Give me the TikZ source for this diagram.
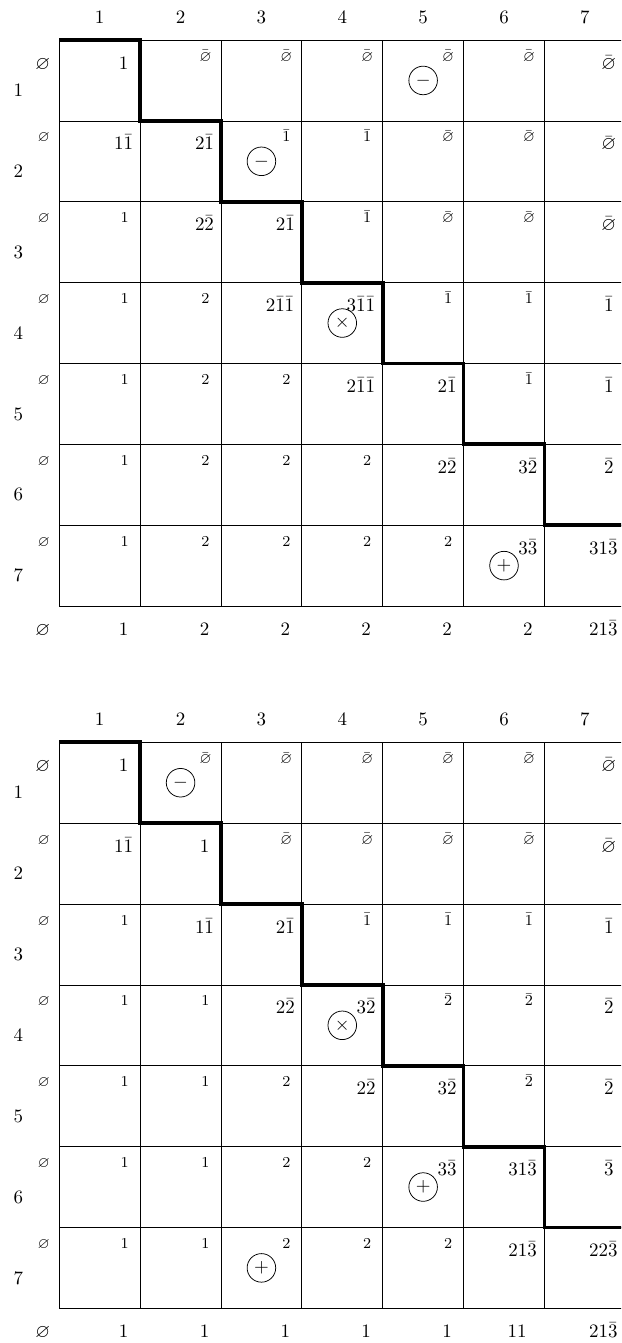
\documentclass[tikz,border=0pt]{standalone}
\usepackage{amsmath}
\usepackage{amssymb}
\usepackage{tikz}

\begin{document}
\begin{tikzpicture}[
    x=1.5cm, y=-1.5cm,
    gridline/.style = {line width=0.4pt},
    stair/.style    = {line width=2pt},
    bignum/.style   = {anchor=base, inner sep=0pt, xshift=-0.306cm, yshift=-0.539cm},
    leftnum/.style  = {bignum, xshift=-0.2cm},
    smallnum/.style = {anchor=base, inner sep=0pt, font=\footnotesize, xshift=-0.287cm, yshift=-0.39cm},
    widenum/.style  = {anchor=base east, inner sep=0pt, xshift=-0.135cm, yshift=-0.539cm},
    idx/.style      = {anchor=base, inner sep=0pt},
    oper/.style     = {draw, circle, line width=0.4pt, minimum size=0.53cm, inner sep=0pt}
]
    \path[use as bounding box, clip] (0,0) rectangle (7.680,16.609);

    % first table
    \begin{scope}[shift={(0.733,0.495)}]
        \foreach \i in {0,...,7} {
            \draw[gridline] (\i,0) -- (\i,7);
            \draw[gridline] (0,\i) -- (7,\i);
        }
        \draw[stair] (0,0) \foreach \i in {1,...,6} { -| (\i,\i) } -- (7,6);

        \foreach \i in {1,...,7} {
            \node[idx] (a-col-\i) at (\i-0.5,-0.21) {$\i$};
            \node[idx] (a-row-\i) at (-0.507,\i-0.30) {$\i$};
        }

        \foreach \rw/\row in {
            1/{bignum/\varnothing, bignum/1, smallnum/\bar\varnothing, smallnum/\bar\varnothing, smallnum/\bar\varnothing, smallnum/\bar\varnothing, smallnum/\bar\varnothing, bignum/\bar\varnothing},
            2/{smallnum/\varnothing, bignum/1\bar1, bignum/2\bar1, smallnum/\bar1, smallnum/\bar1, smallnum/\bar\varnothing, smallnum/\bar\varnothing, bignum/\bar\varnothing},
            3/{smallnum/\varnothing, smallnum/1, bignum/2\bar2, bignum/2\bar1, smallnum/\bar1, smallnum/\bar\varnothing, smallnum/\bar\varnothing, bignum/\bar\varnothing},
            4/{smallnum/\varnothing, smallnum/1, smallnum/2, widenum/2\bar1\bar1, widenum/3\bar1\bar1, smallnum/\bar1, smallnum/\bar1, bignum/\bar1},
            5/{smallnum/\varnothing, smallnum/1, smallnum/2, smallnum/2, widenum/2\bar1\bar1, bignum/2\bar1, smallnum/\bar1, bignum/\bar1},
            6/{smallnum/\varnothing, smallnum/1, smallnum/2, smallnum/2, smallnum/2, bignum/2\bar2, bignum/3\bar2, bignum/\bar2},
            7/{smallnum/\varnothing, smallnum/1, smallnum/2, smallnum/2, smallnum/2, smallnum/2, bignum/3\bar3, widenum/31\bar3},
            8/{bignum/\varnothing, bignum/1, bignum/2, bignum/2, bignum/2, bignum/2, bignum/2, widenum/21\bar3}}
            \foreach \sty/\ent [count=\cl from 0] in \row
                \node[\sty] (a-\rw-\cl) at (\cl,\rw-1) {$\ent$};

        \node[oper] (a-minus1) at (4.5,0.5) {$-$};
        \node[oper] (a-minus2) at (2.5,1.5) {$-$};
        \node[oper] (a-times) at (3.5,3.5) {$\times$};
        \node[oper] (a-plus) at (5.5,6.5) {$+$};
    \end{scope}

    % second table
    \begin{scope}[shift={(0.733,9.180)}]
        \foreach \i in {0,...,7} {
            \draw[gridline] (\i,0) -- (\i,7);
            \draw[gridline] (0,\i) -- (7,\i);
        }
        \draw[stair] (0,0) \foreach \i in {1,...,6} { -| (\i,\i) } -- (7,6);

        \foreach \i in {1,...,7} {
            \node[idx] (b-col-\i) at (\i-0.5,-0.21) {$\i$};
            \node[idx] (b-row-\i) at (-0.507,\i-0.30) {$\i$};
        }

        \foreach \rw/\row in {
            1/{bignum/\varnothing, bignum/1, smallnum/\bar\varnothing, smallnum/\bar\varnothing, smallnum/\bar\varnothing, smallnum/\bar\varnothing, smallnum/\bar\varnothing, bignum/\bar\varnothing},
            2/{smallnum/\varnothing, bignum/1\bar1, bignum/1, smallnum/\bar\varnothing, smallnum/\bar\varnothing, smallnum/\bar\varnothing, smallnum/\bar\varnothing, bignum/\bar\varnothing},
            3/{smallnum/\varnothing, smallnum/1, bignum/1\bar1, bignum/2\bar1, smallnum/\bar1, smallnum/\bar1, smallnum/\bar1, bignum/\bar1},
            4/{smallnum/\varnothing, smallnum/1, smallnum/1, bignum/2\bar2, bignum/3\bar2, smallnum/\bar2, smallnum/\bar2, bignum/\bar2},
            5/{smallnum/\varnothing, smallnum/1, smallnum/1, smallnum/2, bignum/2\bar2, bignum/3\bar2, smallnum/\bar2, bignum/\bar2},
            6/{smallnum/\varnothing, smallnum/1, smallnum/1, smallnum/2, smallnum/2, bignum/3\bar3, widenum/31\bar3, bignum/\bar3},
            7/{smallnum/\varnothing, smallnum/1, smallnum/1, smallnum/2, smallnum/2, smallnum/2, widenum/21\bar3, widenum/22\bar3},
            8/{bignum/\varnothing, bignum/1, bignum/1, bignum/1, bignum/1, bignum/1, leftnum/11, widenum/21\bar3}}
            \foreach \sty/\ent [count=\cl from 0] in \row
                \node[\sty] (b-\rw-\cl) at (\cl,\rw-1) {$\ent$};

        \node[oper] (b-minus) at (1.5,0.5) {$-$};
        \node[oper] (b-times) at (3.5,3.5) {$\times$};
        \node[oper] (b-plus1) at (4.5,5.5) {$+$};
        \node[oper] (b-plus2) at (2.5,6.5) {$+$};
    \end{scope}
\end{tikzpicture}
\end{document}
